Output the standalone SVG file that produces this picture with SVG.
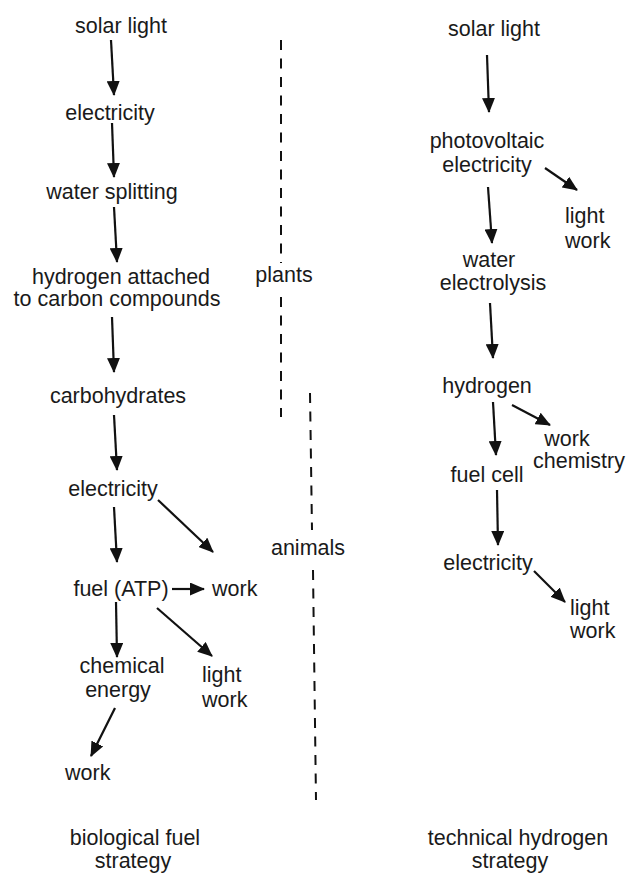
<svg xmlns="http://www.w3.org/2000/svg" width="627" height="875" viewBox="0 0 627 875">
<style>
text{font-family:"Liberation Sans",Arial,sans-serif;font-size:21.5px;fill:#1a1a1a}
.c{text-anchor:middle}
.a{stroke:#111;stroke-width:2.2;fill:none;marker-end:url(#ah)}
.d{stroke:#111;stroke-width:2;fill:none;stroke-dasharray:10 8.5}
</style>
<defs>
<marker id="ah" viewBox="0 0 15 13" refX="14" refY="6.5" markerWidth="15" markerHeight="13" markerUnits="userSpaceOnUse" orient="auto">
<path d="M0,0 L15,6.5 L0,13 z" fill="#111"/>
</marker>
</defs>
<rect width="627" height="875" fill="#fff"/>
<g id="connectors">
<line class="a" x1="111" y1="40" x2="114" y2="95"/>
<line class="a" x1="112" y1="123" x2="114" y2="177"/>
<line class="a" x1="114" y1="207" x2="117" y2="262"/>
<line class="a" x1="112" y1="317" x2="114" y2="372"/>
<line class="a" x1="114" y1="415" x2="117" y2="470"/>
<line class="a" x1="114" y1="507" x2="117" y2="562"/>
<line class="a" x1="158" y1="500" x2="213" y2="552"/>
<line class="a" x1="172" y1="589" x2="204" y2="589"/>
<line class="a" x1="116" y1="602" x2="117" y2="657"/>
<line class="a" x1="157" y1="608" x2="212" y2="656"/>
<line class="a" x1="115" y1="708" x2="91" y2="756"/>
<line class="a" x1="487" y1="55" x2="489" y2="112"/>
<line class="a" x1="545" y1="168" x2="577" y2="190"/>
<line class="a" x1="488" y1="187" x2="492" y2="243"/>
<line class="a" x1="490" y1="303" x2="493" y2="358"/>
<line class="a" x1="512" y1="405" x2="550" y2="425"/>
<line class="a" x1="493" y1="402" x2="496" y2="455"/>
<line class="a" x1="497" y1="490" x2="498" y2="545"/>
<line class="a" x1="534" y1="571" x2="565" y2="602"/>
</g>
<g id="dividers">
<line class="d" x1="281" y1="40" x2="281" y2="263"/>
<line class="d" x1="281" y1="297" x2="281" y2="417"/>
<line class="d" x1="310" y1="393" x2="312" y2="530"/>
<line class="d" x1="313" y1="570" x2="316" y2="800"/>
</g>
<g id="n-solar-left"><text class="c" x="121" y="33">solar light</text></g>
<g id="n-electricity-1"><text class="c" x="110" y="120">electricity</text></g>
<g id="n-water-splitting"><text class="c" x="112" y="199">water splitting</text></g>
<g id="n-hydrogen-attached"><text class="c" x="121" y="284">hydrogen attached</text><text class="c" x="117" y="306">to carbon compounds</text></g>
<g id="n-carbohydrates"><text class="c" x="118" y="403">carbohydrates</text></g>
<g id="n-electricity-2"><text class="c" x="113" y="496">electricity</text></g>
<g id="n-fuel-atp"><text class="c" x="121" y="596">fuel (ATP)</text></g>
<g id="n-work-1"><text x="212" y="596">work</text></g>
<g id="n-chemical-energy"><text class="c" x="122" y="673">chemical</text><text class="c" x="118" y="697">energy</text></g>
<g id="n-light-work-1"><text x="202" y="682">light</text><text x="202" y="707">work</text></g>
<g id="n-work-2"><text x="65" y="780">work</text></g>
<g id="n-plants"><text class="c" x="284" y="282">plants</text></g>
<g id="n-animals"><text class="c" x="308" y="555">animals</text></g>
<g id="n-bio-title"><text class="c" x="135" y="845">biological fuel</text><text class="c" x="133" y="868">strategy</text></g>
<g id="n-solar-right"><text class="c" x="494" y="36">solar light</text></g>
<g id="n-pv-electricity"><text class="c" x="487" y="148">photovoltaic</text><text class="c" x="487" y="172">electricity</text></g>
<g id="n-light-work-2"><text x="565" y="223">light</text><text x="565" y="248">work</text></g>
<g id="n-water-electrolysis"><text class="c" x="489" y="267">water</text><text class="c" x="493" y="290">electrolysis</text></g>
<g id="n-hydrogen"><text class="c" x="487" y="393">hydrogen</text></g>
<g id="n-work-chemistry"><text class="c" x="567" y="446">work</text><text class="c" x="579" y="468">chemistry</text></g>
<g id="n-fuel-cell"><text class="c" x="487" y="482">fuel cell</text></g>
<g id="n-electricity-3"><text class="c" x="488" y="570">electricity</text></g>
<g id="n-light-work-3"><text x="570" y="615">light</text><text x="570" y="638">work</text></g>
<g id="n-tech-title"><text class="c" x="518" y="845">technical hydrogen</text><text class="c" x="510" y="868">strategy</text></g>
</svg>
